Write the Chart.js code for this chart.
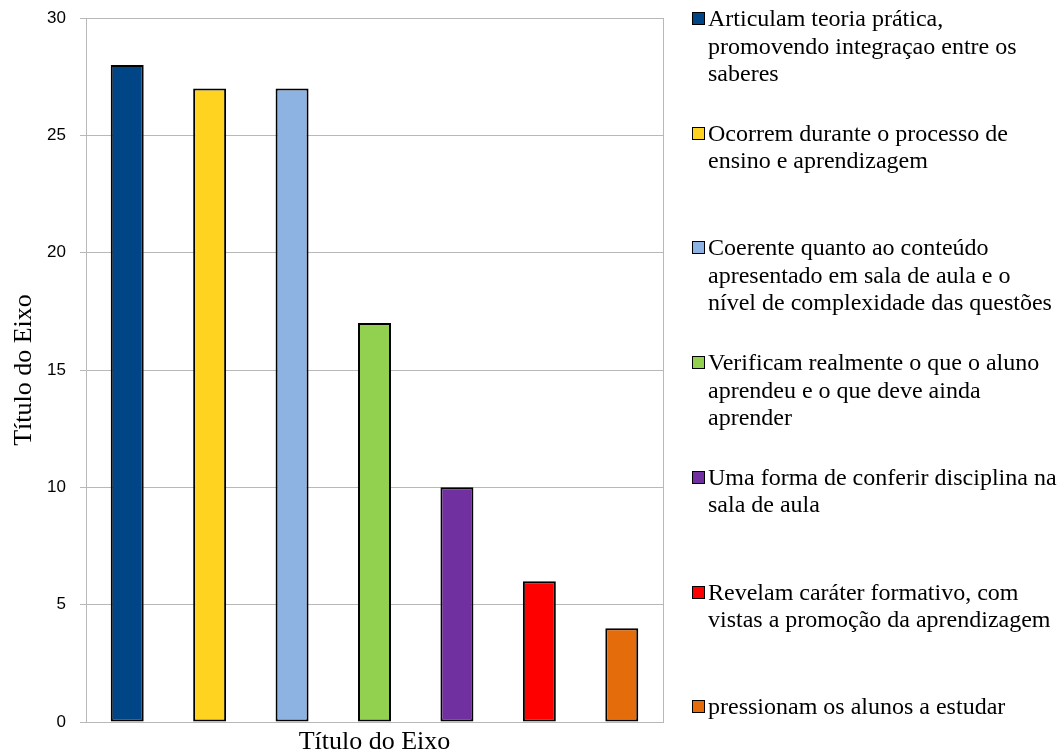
<!DOCTYPE html>
<html>
<head>
<meta charset="utf-8">
<script src="https://cdn.jsdelivr.net/npm/chart.js@4/dist/chart.umd.min.js"></script>
<style>
  html, body { margin: 0; padding: 0; background: #fff; }
  #wrap { position: relative; width: 1063px; height: 755px; }
  #chart { position: absolute; left: 0; top: 0; }
  #legend { position: absolute; left: 690px; top: 0; width: 373px; height: 755px;
            font-family: "Liberation Serif", "Times New Roman", serif; font-size: 24px;
            line-height: 27.5px; color: #000; }
  .item { position: absolute; left: 0; white-space: nowrap; }
  .box { position: absolute; left: 2px; top: 7px; width: 11px; height: 11px;
         border: 1px solid #000; box-sizing: content-box; }
  .txt { position: absolute; left: 18px; top: 0; }
</style>
</head>
<body>
<div id="wrap">
  <canvas id="chart" width="1063" height="755"></canvas>
  <div id="legend"></div>
</div>
<script>
// Response categories (one bar each)
const categories = [
  ["Articulam teoria prática,", "promovendo integraçao entre os", "saberes"],
  ["Ocorrem durante o processo de", "ensino e aprendizagem"],
  ["Coerente quanto ao conteúdo", "apresentado em sala de aula e o", "nível de complexidade das questões"],
  ["Verificam realmente o que o aluno", "aprendeu e o que deve ainda", "aprender"],
  ["Uma forma de conferir disciplina na", "sala de aula"],
  ["Revelam caráter formativo, com", "vistas a promoção da aprendizagem"],
  ["pressionam os alunos a estudar"]
];
// Number of answers per category
const values = [28, 27, 27, 17, 10, 6, 4];
const barColors = ["#004586", "#ffd320", "#8db3e2", "#92d050", "#7030a0", "#ff0000", "#e46c0a"];
// Y axis
const yMin = 0, yMax = 30, yStep = 5;
const axisTitle = "Título do Eixo";

const GRID = "#b8b8b8";

// Draws the right edge of the plot area
const plotFrame = {
  id: "plotFrame",
  beforeDatasetsDraw(chart) {
    const { ctx, chartArea: a } = chart;
    ctx.save();
    ctx.strokeStyle = GRID;
    ctx.lineWidth = 1;
    ctx.beginPath();
    const x = Math.round(a.right) + 0.5;
    ctx.moveTo(x, a.top);
    ctx.lineTo(x, a.bottom);
    ctx.stroke();
    ctx.restore();
  }
};

// HTML legend built from the chart's labels and colours, one entry per row slot
const htmlLegend = {
  id: "htmlLegend",
  afterUpdate(chart) {
    const el = document.getElementById("legend");
    el.innerHTML = "";
    const labels = chart.data.labels;
    const colors = chart.data.datasets[0].backgroundColor;
    const slot = 114.7;
    labels.forEach((lab, i) => {
      const item = document.createElement("div");
      item.className = "item";
      item.style.top = (5 + i * slot) + "px";
      const box = document.createElement("span");
      box.className = "box";
      box.style.background = colors[i];
      const txt = document.createElement("div");
      txt.className = "txt";
      txt.innerHTML = (Array.isArray(lab) ? lab : [lab]).join("<br>");
      item.appendChild(box);
      item.appendChild(txt);
      el.appendChild(item);
    });
  }
};

new Chart(document.getElementById("chart"), {
  type: "bar",
  data: {
    labels: categories,
    datasets: [{
      data: values,
      backgroundColor: barColors,
      borderColor: "#000",
      borderWidth: 2,
      borderSkipped: false,
      barPercentage: 0.4,
      categoryPercentage: 1.0
    }]
  },
  options: {
    responsive: false,
    animation: false,
    layout: { padding: { top: 0, right: 400, left: 0, bottom: 0 } },
    plugins: {
      legend: { display: false },
      tooltip: { enabled: false }
    },
    scales: {
      x: {
        grid: { display: false },
        border: { display: true, color: GRID, width: 1 },
        ticks: { display: false },
        title: {
          display: true, text: axisTitle, color: "#000",
          font: { family: "Liberation Serif", size: 26, lineHeight: 1 }, padding: { top: 0, bottom: 0 }
        },
        afterFit(s) { s.height = 33; }
      },
      y: {
        min: yMin, max: yMax,
        ticks: {
          stepSize: yStep, color: "#000", padding: 14,
          font: { family: "Liberation Sans", size: 17 }
        },
        grid: { color: GRID, lineWidth: 1, tickLength: 6, drawTicks: true },
        border: { display: true, color: GRID, width: 1 },
        title: {
          display: true, text: axisTitle, color: "#000",
          font: { family: "Liberation Serif", size: 26, lineHeight: 1 }, padding: { top: 11, bottom: 0 }
        },
        afterFit(s) {
          s.width = 86;
          s.paddingTop = 18;
          s.paddingBottom = 0;
        }
      }
    }
  },
  plugins: [plotFrame, htmlLegend]
});
</script>
</body>
</html>
